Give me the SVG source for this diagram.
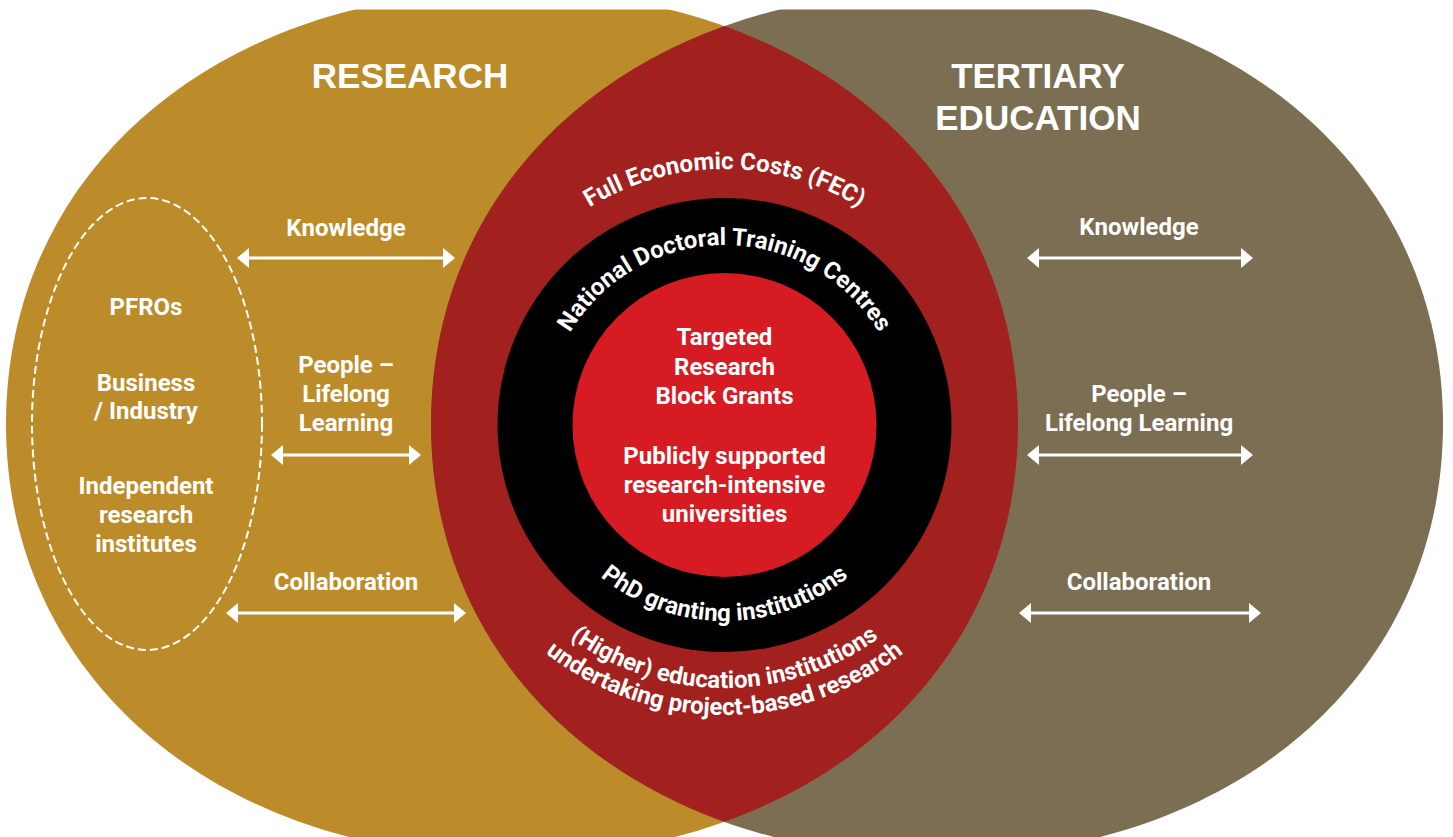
<svg xmlns="http://www.w3.org/2000/svg" width="1453" height="837" viewBox="0 0 1453 837">
  <defs>
    <style>
      .lbl { font-family: Roboto, "Liberation Sans", sans-serif; font-weight: 700; font-size: 24px; fill: #ffffff; text-anchor: middle; }
      .arc { font-family: Roboto, "Liberation Sans", sans-serif; font-weight: 700; font-size: 24px; fill: #ffffff; }
      .title { font-family: "Liberation Sans", Arial, sans-serif; font-weight: 700; font-size: 35px; fill: #ffffff; text-anchor: middle; }
      .arrow { stroke: #ffffff; stroke-width: 3; fill: none; marker-start: url(#head); marker-end: url(#head); }
    </style>
    <!-- rounded ellipse outlines of the two fields -->
    <path id="leftShape" d="M1018 424 C1018 676.9 807.5 857 512 857 C216.5 857 6 676.9 6 424 C6 171.1 216.5 -9 512 -9 C807.5 -9 1018 171.1 1018 424 Z"/>
    <path id="rightShape" d="M1443 424 C1443 676.9 1232.5 857 937 857 C641.5 857 431 676.9 431 424 C431 171.1 641.5 -9 937 -9 C1232.5 -9 1443 171.1 1443 424 Z"/>
    <clipPath id="frame"><rect x="0" y="9.5" width="1453" height="900"/></clipPath>
    <clipPath id="leftClip"><use href="#leftShape"/></clipPath>
    <marker id="head" viewBox="0 0 12 20" refX="3" refY="10" markerWidth="12" markerHeight="20" markerUnits="userSpaceOnUse" orient="auto-start-reverse">
      <path d="M0,0 L12,10 L0,20 Z" fill="#ffffff"/>
    </marker>
    <!-- baselines for the curved ring captions, centred on (724.5, 425) -->
    <path id="arcFec" d="M528.4 260.4 A256 256 0 0 1 920.6 260.4"/>
    <path id="arcNdtc" d="M555.4 363.4 A180 180 0 0 1 893.6 363.4"/>
    <path id="arcPhd" d="M554.8 523 A196 196 0 0 0 894.2 523"/>
    <path id="arcHei1" d="M496.7 556.5 A263 263 0 0 0 952.3 556.5"/>
    <path id="arcHei2" d="M473.4 570 A290 290 0 0 0 975.6 570"/>
  </defs>

  <rect width="1453" height="837" fill="#ffffff"/>

  <g id="fields" clip-path="url(#frame)">
    <g id="research-field">
      <use href="#leftShape" fill="#BD8C2A"/>
    </g>
    <g id="tertiary-field">
      <use href="#rightShape" fill="#7C6E52"/>
    </g>
    <g id="overlap">
      <use href="#rightShape" fill="#A2211E" clip-path="url(#leftClip)"/>
    </g>
  </g>

  <g id="phd-ring">
    <circle cx="724.5" cy="425" r="227" fill="#000000"/>
  </g>
  <g id="core">
    <circle cx="724.5" cy="425" r="152" fill="#D71B23"/>
    <text class="lbl" x="724.5" y="345">Targeted</text>
    <text class="lbl" x="724.5" y="375">Research</text>
    <text class="lbl" x="724.5" y="404">Block Grants</text>
    <text class="lbl" x="724.5" y="464">Publicly supported</text>
    <text class="lbl" x="724.5" y="493">research-intensive</text>
    <text class="lbl" x="724.5" y="522">universities</text>
  </g>

  <g id="ring-captions">
    <text class="arc"><textPath href="#arcFec" startOffset="50%" text-anchor="middle">Full Economic Costs (FEC)</textPath></text>
    <text class="arc"><textPath href="#arcNdtc" startOffset="50%" text-anchor="middle">National Doctoral Training Centres</textPath></text>
    <text class="arc"><textPath href="#arcPhd" startOffset="50%" text-anchor="middle">PhD granting institutions</textPath></text>
    <text class="arc"><textPath href="#arcHei1" startOffset="50%" text-anchor="middle">(Higher) education institutions</textPath></text>
    <text class="arc"><textPath href="#arcHei2" startOffset="50%" text-anchor="middle">undertaking project-based research</textPath></text>
  </g>

  <g id="title-research">
    <text class="title" x="410" y="88">RESEARCH</text>
  </g>
  <g id="title-tertiary">
    <text class="title" x="1038" y="88">TERTIARY</text>
    <text class="title" x="1038" y="130">EDUCATION</text>
  </g>

  <g id="actors">
    <ellipse cx="147" cy="424" rx="115" ry="226" fill="none" stroke="#ffffff" stroke-width="2" stroke-dasharray="8 4"/>
    <text class="lbl" x="146" y="315">PFROs</text>
    <text class="lbl" x="146" y="391">Business</text>
    <text class="lbl" x="146" y="419">/ Industry</text>
    <text class="lbl" x="146" y="494">Independent</text>
    <text class="lbl" x="146" y="523">research</text>
    <text class="lbl" x="146" y="552">institutes</text>
  </g>

  <g id="connectors">
    <line class="arrow" x1="246" y1="258" x2="446" y2="258"/>
    <line class="arrow" x1="280" y1="455" x2="412" y2="455"/>
    <line class="arrow" x1="235" y1="613" x2="457" y2="613"/>
    <line class="arrow" x1="1036" y1="258" x2="1244" y2="258"/>
    <line class="arrow" x1="1036" y1="455" x2="1244" y2="455"/>
    <line class="arrow" x1="1028" y1="613" x2="1252" y2="613"/>
  </g>

  <g id="link-labels-left">
    <text class="lbl" x="346" y="236">Knowledge</text>
    <text class="lbl" x="346" y="373">People –</text>
    <text class="lbl" x="346" y="402">Lifelong</text>
    <text class="lbl" x="346" y="431">Learning</text>
    <text class="lbl" x="346" y="590">Collaboration</text>
  </g>
  <g id="link-labels-right">
    <text class="lbl" x="1139" y="235">Knowledge</text>
    <text class="lbl" x="1139" y="402">People –</text>
    <text class="lbl" x="1139" y="431">Lifelong Learning</text>
    <text class="lbl" x="1139" y="590">Collaboration</text>
  </g>
</svg>
